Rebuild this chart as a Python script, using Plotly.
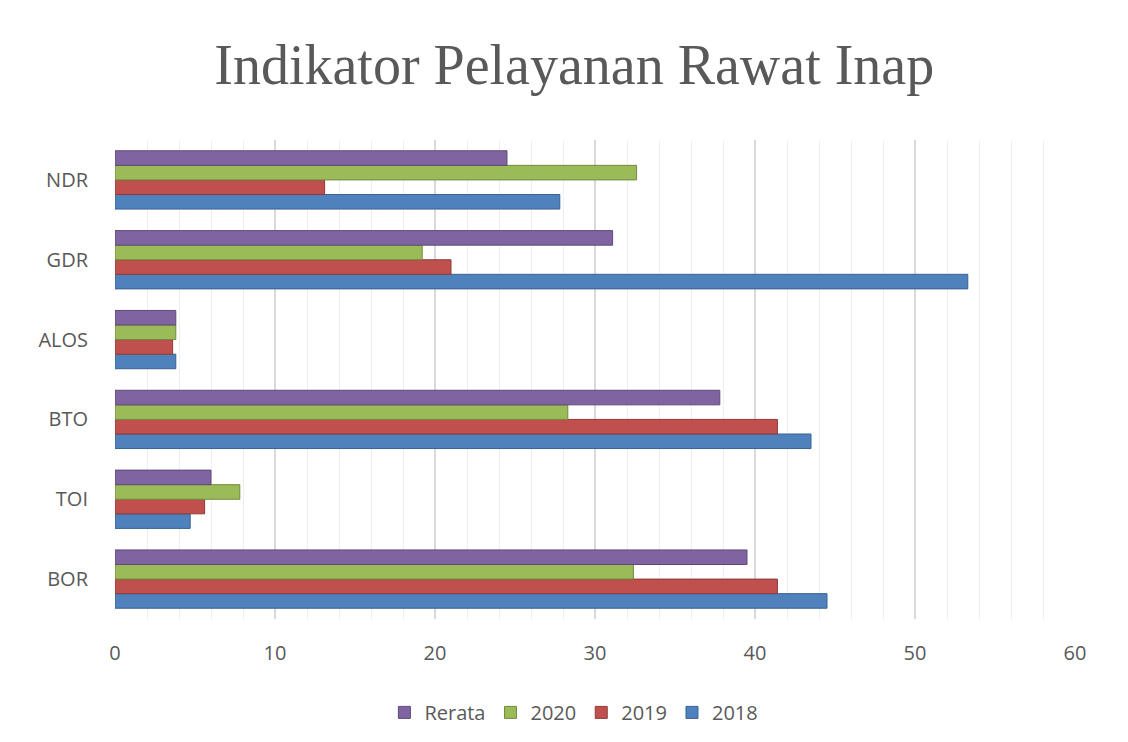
import plotly.graph_objects as go

categories = ["BOR", "TOI", "BTO", "ALOS", "GDR", "NDR"]
series_names = ["2018", "2019", "2020", "Rerata"]
values_2018 = [44.5, 4.7, 43.5, 3.8, 53.3, 27.8]
values_2019 = [41.4, 5.6, 41.4, 3.6, 21.0, 13.1]
values_2020 = [32.4, 7.8, 28.3, 3.8, 19.2, 32.6]
values_rerata = [39.5, 6.0, 37.8, 3.8, 31.1, 24.5]
x_ticks = [0, 10, 20, 30, 40, 50, 60]

colors = ["#4F81BD", "#C0504D", "#9BBB59", "#8064A2"]
edge_colors = ["#3A6190", "#8E3B39", "#73893F", "#5E4A78"]
all_values = [values_2018, values_2019, values_2020, values_rerata]

fig = go.Figure()
for name, vals, c, ec in zip(series_names, all_values, colors, edge_colors):
    fig.add_trace(go.Bar(
        y=categories, x=vals, name=name, orientation="h",
        marker=dict(color=c, line=dict(color=ec, width=1)),
    ))

text_color = "#595959"
fig.update_layout(
    width=1128, height=742,
    paper_bgcolor="white", plot_bgcolor="white",
    margin=dict(l=107, r=61, t=132, b=131),
    barmode="group", bargap=0.27, bargroupgap=0,
    title=dict(
        text="Indikator Pelayanan Rawat Inap",
        font=dict(family="Liberation Serif", size=56, color=text_color),
        x=0.502, xref="container", xanchor="center",
        y=1 - 56 / 742, yref="container", yanchor="middle",
    ),
    font=dict(family="Open Sans", size=20, color=text_color),
    xaxis=dict(
        range=[0, 60], tickvals=x_ticks, ticktext=[str(t) for t in x_ticks],
        showgrid=True, gridcolor="#D9D9D9", gridwidth=1.5,
        minor=dict(dtick=2, showgrid=True, gridcolor="#EFEFEF", gridwidth=1),
        zeroline=False, showline=False, ticks="",
        tickfont=dict(size=20, color=text_color),
        ticklabelstandoff=20,
        automargin=False,
        fixedrange=True,
    ),
    yaxis=dict(
        categoryorder="array", categoryarray=categories,
        range=[-0.5, 5.5],
        showgrid=False, zeroline=False, showline=False, ticks="",
        tickfont=dict(size=20, color=text_color),
        ticklabelstandoff=26,
        automargin=False,
        fixedrange=True,
    ),
    legend=dict(
        orientation="h", traceorder="reversed",
        x=0.478, xanchor="center", y=-0.195, yanchor="middle",
        font=dict(size=20, color=text_color),
        itemwidth=30,
    ),
    showlegend=True,
)

fig.write_html("out.html")
